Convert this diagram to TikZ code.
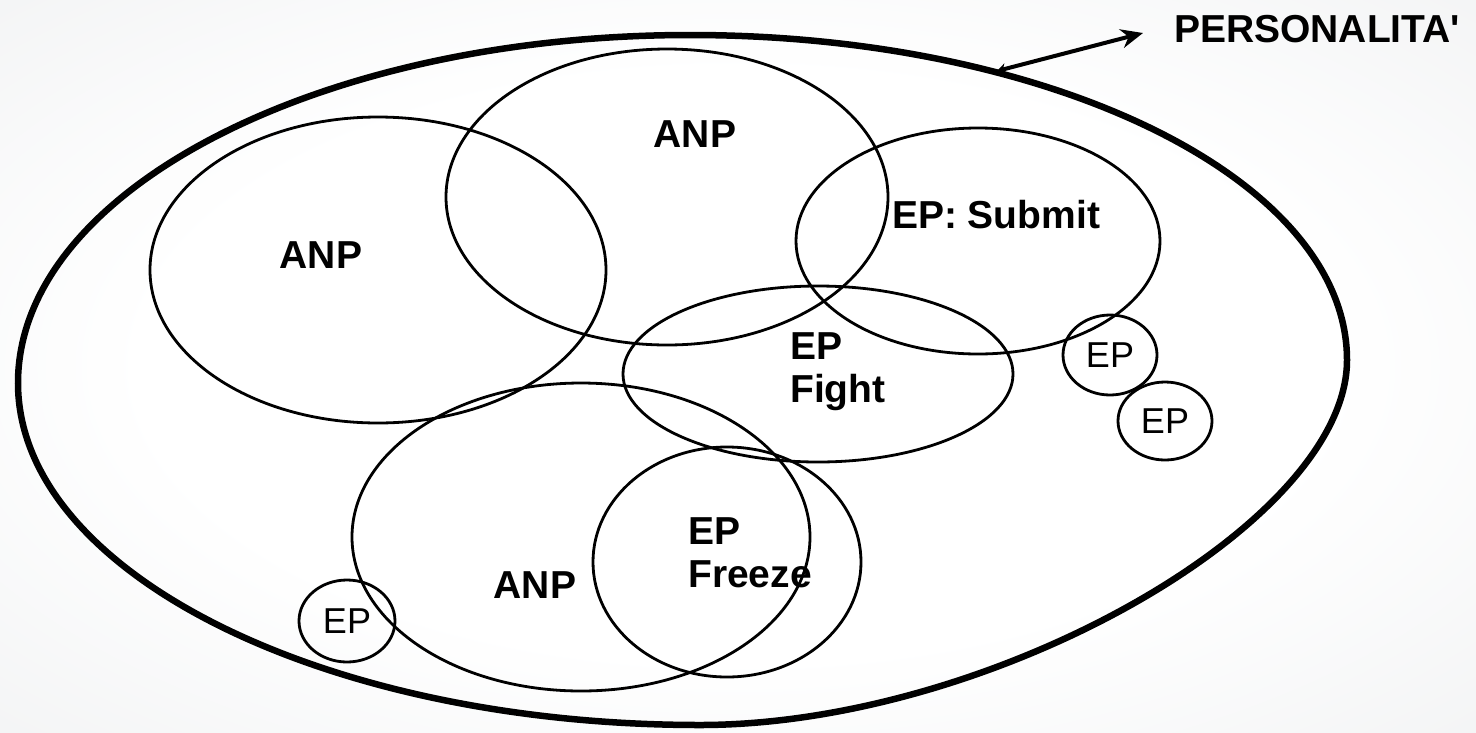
\documentclass[tikz,border=0pt]{standalone}
\usepackage{fontspec}
\setmainfont{Liberation Sans}
\usetikzlibrary{shapes.geometric,arrows.meta}
\definecolor{bgout}{HTML}{E6E9EB}
\definecolor{bgmid}{HTML}{F2F3F4}
\pgfdeclareradialshading{paper}{\pgfpoint{0bp}{0bp}}{%
  color(0bp)=(white); color(20bp)=(white); color(38bp)=(bgmid);
  color(60bp)=(bgout); color(75bp)=(bgout)}
\begin{document}
\begin{tikzpicture}[x=1pt,y=-1pt,
  part/.style={draw=black, ellipse, line width=2.8pt, inner sep=0pt},
  lbl/.style={font=\fontsize{39}{43}\selectfont\bfseries, inner sep=0pt},
  eplbl/.style={font=\fontsize{36}{40}\selectfont},
  outline/.style={draw=black, line width=6.5pt}]

% page and soft grey backdrop
\useasboundingbox (0,0) rectangle (1476,732);
\shade[shading=paper] (0,0) rectangle (1476,732);

% the personality as a whole: an egg-like oval, flatter at the lower right
\coordinate (oL) at (18,383);
\coordinate (oT) at (690,35);
\coordinate (oR) at (1347,360);
\coordinate (oB) at (700,725);
\draw[outline]
  (oL) .. controls (18,191) and (319,35) .. (oT)
       .. controls (1053,35) and (1347,180) .. (oR)
       .. controls (1347,524) and (991,725) .. (oB)
       .. controls (323,725) and (18,572) .. (oL) -- cycle;

% parts of the personality
\node[part, minimum width=456pt, minimum height=306pt] (anpL) at (378,270) {};
\node[part, minimum width=442pt, minimum height=296pt] (anpT) at (667,197) {};
\node[part, minimum width=364pt, minimum height=226pt] (submit) at (978,241) {};
\node[part, minimum width=390pt, minimum height=176pt] (fight) at (818,374) {};
\node[part, minimum width=458pt, minimum height=308pt] (anpB) at (581,537) {};
\node[part, minimum width=268pt, minimum height=230pt] (freeze) at (727,562) {};

% small emotional parts
\node[part, eplbl, minimum width=94pt, minimum height=80pt] (ep1) at (1110,355) {EP};
\node[part, eplbl, minimum width=94pt, minimum height=78pt] (ep2) at (1165,421) {EP};
\node[part, eplbl, minimum width=96pt, minimum height=82pt] (ep3) at (347,621) {EP};

% labels
\node[lbl, anchor=base] (anpLt) at (321,268) {ANP};
\node[lbl, anchor=base] (anpTt) at (695,147) {ANP};
\node[lbl, anchor=base] (anpBt) at (535,598) {ANP};
\node[lbl, anchor=base] (submitt) at (996,228) {EP: Submit};
\node[lbl, align=left, anchor=north west] (fightt) at (790,332) {EP\\Fight};
\node[lbl, align=left, anchor=north west] (freezet) at (688,517) {EP\\Freeze};

% title with its pointer
\node[lbl, anchor=base west] (pers) at (1174,42) {PERSONALITA\textquotesingle};
\coordinate (pstart) at (997,71);
\coordinate (ptip) at (1143,33);
\draw[line width=4pt, {Stealth[length=9pt,width=11pt]}-{Stealth[length=22pt,width=19pt]}]
  (pstart) -- (ptip);
\end{tikzpicture}
\end{document}
